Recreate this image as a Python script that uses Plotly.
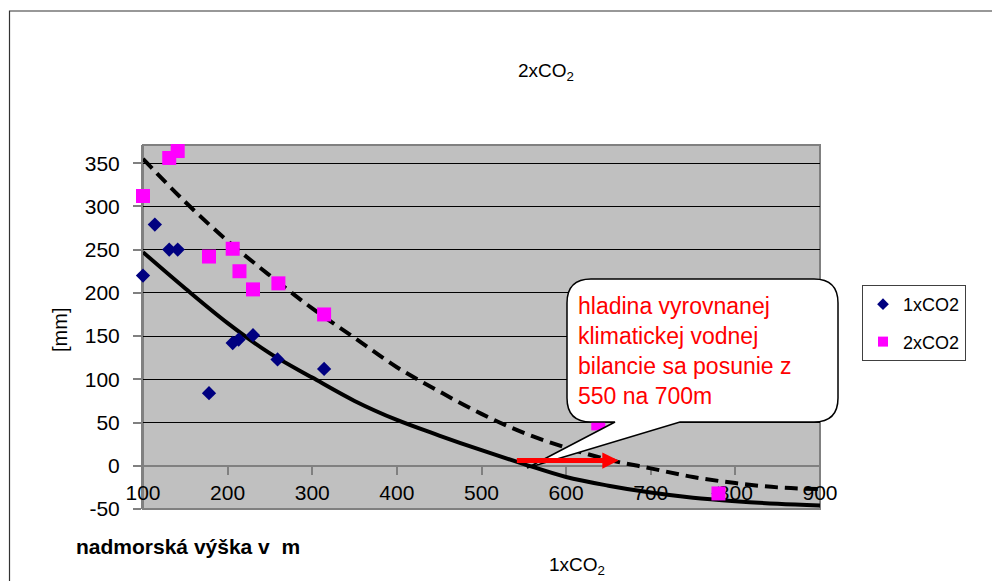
import plotly.graph_objects as go

# ---------------- data ----------------
x_1co2 = [100, 114, 131, 141, 178, 206, 213, 230, 259, 314, 780]
y_1co2 = [220, 279, 250, 250, 84, 142, 146, 151, 123, 112, -32]

x_2co2 = [100, 131, 141, 178, 206, 214, 230, 260, 314, 638, 780]
y_2co2 = [312, 356, 364, 242, 251, 225, 204, 211, 175, 49, -32]

trend_x = [100, 150, 200, 250, 300, 350, 400, 450, 500, 550, 600, 650, 700, 750, 800, 850, 900]
trend_1co2 = [247, 205, 165, 130, 102, 75, 53, 35, 18, 2, -13, -23, -31, -37, -41, -44, -46]
trend_2co2 = [355, 305, 260, 220, 182, 148, 114, 86, 60, 38, 21, 7, -3, -13, -20, -25, -27]

x_ticks = [100, 200, 300, 400, 500, 600, 700, 800, 900]
y_ticks = [-50, 0, 50, 100, 150, 200, 250, 300, 350]

shift_from = 540   # arrow start (elevation, m)
shift_to = 662     # arrow end
shift_level = 6    # arrow height on the y scale

callout_text = ("hladina vyrovnanej<br>klimatickej vodnej<br>"
                "bilancie sa posunie z<br>550 na 700m")

# ---------------- layout geometry ----------------
W, H = 992, 581
ML, MR, MT, MB = 143, 172, 145, 72
PW, PH = W - ML - MR, H - MT - MB
FONT = "Liberation Sans, Arial, sans-serif"


def px(xp, yp):
    """pixel position -> paper coordinates"""
    return (xp - ML) / PW, (H - MB - yp) / PH


def path(points_cmds):
    out = []
    for cmd, pts in points_cmds:
        coords = []
        for (a, b) in pts:
            X, Y = px(a, b)
            coords.append(f"{X:.5f},{Y:.5f}")
        out.append(cmd + " ".join(coords))
    return " ".join(out) + " Z"


fig = go.Figure()

# trend lines
fig.add_trace(go.Scatter(x=trend_x, y=trend_1co2, mode="lines", line=dict(color="black", width=4, shape="spline"),
                         showlegend=False, hoverinfo="skip", cliponaxis=False))
fig.add_trace(go.Scatter(x=trend_x, y=trend_2co2, mode="lines",
                         line=dict(color="black", width=4, dash="13px,7px", shape="spline"),
                         showlegend=False, hoverinfo="skip", cliponaxis=False))

# data points
fig.add_trace(go.Scatter(x=x_1co2, y=y_1co2, mode="markers", name="1xCO2",
                         marker=dict(symbol="diamond", size=11, color="#000080"),
                         showlegend=False, cliponaxis=False))
fig.add_trace(go.Scatter(x=x_2co2, y=y_2co2, mode="markers", name="2xCO2",
                         marker=dict(symbol="square", size=14, color="#FF00FF"),
                         showlegend=False, cliponaxis=False))

# legend-only entries (smaller symbols like the reference)
fig.add_trace(go.Scatter(x=[None], y=[None], mode="markers", name="1xCO2", legendgroup="a",
                         marker=dict(symbol="diamond", size=9, color="#000080")))
fig.add_trace(go.Scatter(x=[None], y=[None], mode="markers", name="2xCO2", legendgroup="b",
                         marker=dict(symbol="square", size=10, color="#FF00FF")))

# ---------------- shapes ----------------
shapes = []
# outer frame (top and left edges visible)
fx, fy = px(9.5, 11)
shapes.append(dict(type="path", xref="paper", yref="paper", layer="below",
                   path=f"M 2,{fy:.5f} L {fx:.5f},{fy:.5f} L {fx:.5f},-1",
                   line=dict(color="#333333", width=1.2)))
# plot-area border
shapes.append(dict(type="rect", xref="paper", yref="paper", x0=0, y0=0, x1=1, y1=1, layer="below",
                   line=dict(color="#808080", width=2), fillcolor="rgba(0,0,0,0)"))

# callout bubble
L, R, T, B, r = 567, 838, 279, 422, 24
tip = (527, 468)
bubble = [
    ("M", [(L + r, T)]),
    ("L", [(R - r, T)]),
    ("Q", [(R, T), (R, T + r)]),
    ("L", [(R, B - r)]),
    ("Q", [(R, B), (R - r, B)]),
    ("L", [(680, B)]),
    ("L", [tip]),
    ("L", [(615, B)]),
    ("L", [(L + r, B)]),
    ("Q", [(L, B), (L, B - r)]),
    ("L", [(L, T + r)]),
    ("Q", [(L, T), (L + r, T)]),
]
shapes.append(dict(type="path", xref="paper", yref="paper", layer="above", path=path(bubble),
                   fillcolor="white", line=dict(color="black", width=1.5)))

# ---------------- annotations ----------------
ann = []
tx, ty = px(576, 291)
ann.append(dict(xref="paper", yref="paper", x=tx, y=ty, xanchor="left", yanchor="top", align="left",
                text=callout_text, showarrow=False, font=dict(family=FONT, size=23, color="#FF0000")))

ann.append(dict(xref="x", yref="y", x=shift_to, y=shift_level, ax=shift_from, ay=shift_level,
                axref="x", ayref="y", text="", showarrow=True, arrowhead=2, arrowsize=0.65,
                arrowwidth=5, arrowcolor="#FF0000", standoff=0, startstandoff=0))

t2x, t2y = px(546, 72)
ann.append(dict(xref="paper", yref="paper", x=t2x, y=t2y, xanchor="center", yanchor="middle",
                text="2xCO<sub>2</sub>", showarrow=False, font=dict(family=FONT, size=19, color="black")))
t1x, t1y = px(577, 566)
ann.append(dict(xref="paper", yref="paper", x=t1x, y=t1y, xanchor="center", yanchor="middle",
                text="1xCO<sub>2</sub>", showarrow=False, font=dict(family=FONT, size=19, color="black")))
mx, my = px(60, 330)
ann.append(dict(xref="paper", yref="paper", x=mx, y=my, xanchor="center", yanchor="middle",
                text="[mm]", textangle=-90, showarrow=False, font=dict(family=FONT, size=20, color="black")))
nx, ny = px(74, 546)
ann.append(dict(xref="paper", yref="paper", x=nx, y=ny, xanchor="left", yanchor="middle",
                text="<b>nadmorská výška v\u00a0 m</b>", showarrow=False,
                font=dict(family=FONT, size=21, color="black")))

lx, ly = px(862, 285)

fig.update_layout(
    width=W, height=H,
    margin=dict(l=ML, r=MR, t=MT, b=MB, autoexpand=False),
    paper_bgcolor="white", plot_bgcolor="#C0C0C0",
    font=dict(family=FONT, size=21, color="black"),
    showlegend=True,
    legend=dict(x=lx, y=ly, xanchor="left", yanchor="top", bgcolor="white",
                bordercolor="#404040", borderwidth=1, font=dict(family=FONT, size=18),
                itemwidth=30, traceorder="grouped", tracegroupgap=11),
    xaxis=dict(range=[100, 900], tickvals=x_ticks, ticktext=[str(v) for v in x_ticks],
               anchor="free", position=(0 - (-50)) / (371 - (-50)),
               showline=True, linecolor="#808080", linewidth=2,
               ticks="outside", ticklen=8, tickcolor="#808080", tickwidth=1.5,
               showgrid=False, zeroline=False, tickfont=dict(size=21), layer="below traces"),
    yaxis=dict(range=[-50, 371], tickvals=y_ticks, ticktext=[str(v) for v in y_ticks],
               showline=True, linecolor="#808080", linewidth=2,
               ticks="outside", ticklen=8, tickcolor="#808080", tickwidth=1.5,
               showgrid=True, gridcolor="black", gridwidth=1, zeroline=False,
               tickfont=dict(size=21), ticklabelstandoff=9, layer="below traces"),
    shapes=shapes, annotations=ann,
)

fig.write_html("out.html")
